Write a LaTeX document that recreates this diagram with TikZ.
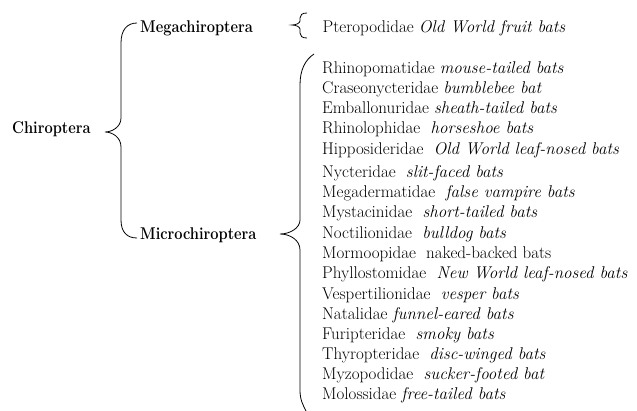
\documentclass[tikz,border=0pt]{standalone}
\usepackage{fontspec}
\newcommand{\bflab}[1]{\scalebox{0.86}[1]{#1}}
\begin{document}
\begin{tikzpicture}[x=1pt,y=-1pt,
  txt/.style={anchor=base west,inner sep=0pt,font=\fontsize{17}{20}\selectfont},
  bold/.style={txt,font=\fontsize{17}{20}\selectfont\bfseries},
  brace/.style={draw=black,line width=0.8pt}]
\useasboundingbox (0,0) rectangle (637,410);
\clip (0,0) rectangle (637,410);
\node[bold] (chir) at (12,133.5) {\bflab{Chiroptera}};
\node[bold] (mega) at (140,32.5) {\bflab{Megachiroptera}};
\node[bold] (micro) at (140,239) {\bflab{Microchiroptera}};
\node[txt] (ptero) at (322.5,32.5) {Pteropodidae \textit{Old World fruit bats}};
\node[txt] (f1) at (322,73) {Rhinopomatidae \textit{mouse-tailed bats}};
\node[txt] (f2) at (322,93) {Craseonycteridae \textit{bumblebee bat}};
\node[txt] (f3) at (322,113) {Emballonuridae \textit{sheath-tailed bats}};
\node[txt] (f4) at (322,133.3) {Rhinolophidae\ \ \textit{horseshoe bats}};
\node[txt] (f5) at (322,154) {Hipposideridae\ \ \textit{Old World leaf-nosed bats}};
\node[txt] (f6) at (322,177) {Nycteridae\ \ \textit{slit-faced bats}};
\node[txt] (f7) at (322,197) {Megadermatidae\ \ \textit{false vampire bats}};
\node[txt] (f8) at (322,217.5) {Mystacinidae\ \ \textit{short-tailed bats}};
\node[txt] (f9) at (322,238.5) {Noctilionidae\ \ \textit{bulldog bats}};
\node[txt] (f10) at (322,258.7) {Mormoopidae\ \ naked-backed bats};
\node[txt] (f11) at (322,278.7) {Phyllostomidae\ \ \textit{New World leaf-nosed bats}};
\node[txt] (f12) at (322,299.7) {Vespertilionidae\ \ \textit{vesper bats}};
\node[txt] (f13) at (322,319.7) {Natalidae \textit{funnel-eared bats}};
\node[txt] (f14) at (322,339.7) {Furipteridae\ \ \textit{smoky bats}};
\node[txt] (f15) at (322,359.7) {Thyropteridae\ \ \textit{disc-winged bats}};
\node[txt] (f16) at (322,379.7) {Myzopodidae\ \ \textit{sucker-footed bat}};
\node[txt] (f17) at (322,399.7) {Molossidae \textit{free-tailed bats}};
% Chiroptera brace
\path[brace] (137,23) .. controls (127,23) and (121,30) .. (121,43) -- (121,118)
  .. controls (121,127) and (112,132) .. (105,132)
  .. controls (112,132) and (121,137) .. (121,147) -- (121,220)
  .. controls (121,232) and (127,238) .. (137,238);
% Megachiroptera brace
\path[brace] (307,13) .. controls (302,13) and (300,15) .. (300,18) -- (300,21)
  .. controls (300,23) and (296,25) .. (292,25)
  .. controls (296,25) and (300,27) .. (300,29) -- (300,33)
  .. controls (300,36) and (302,38) .. (307,38);
% Microchiroptera brace
\path[brace] (314,54) .. controls (305,60) and (300,70) .. (300,85) -- (300,220)
  .. controls (300,228) and (290,234) .. (280,234)
  .. controls (290,234) and (300,240) .. (300,250) -- (300,390)
  .. controls (300,400) and (303,405) .. (306,411);
\end{tikzpicture}
\end{document}
